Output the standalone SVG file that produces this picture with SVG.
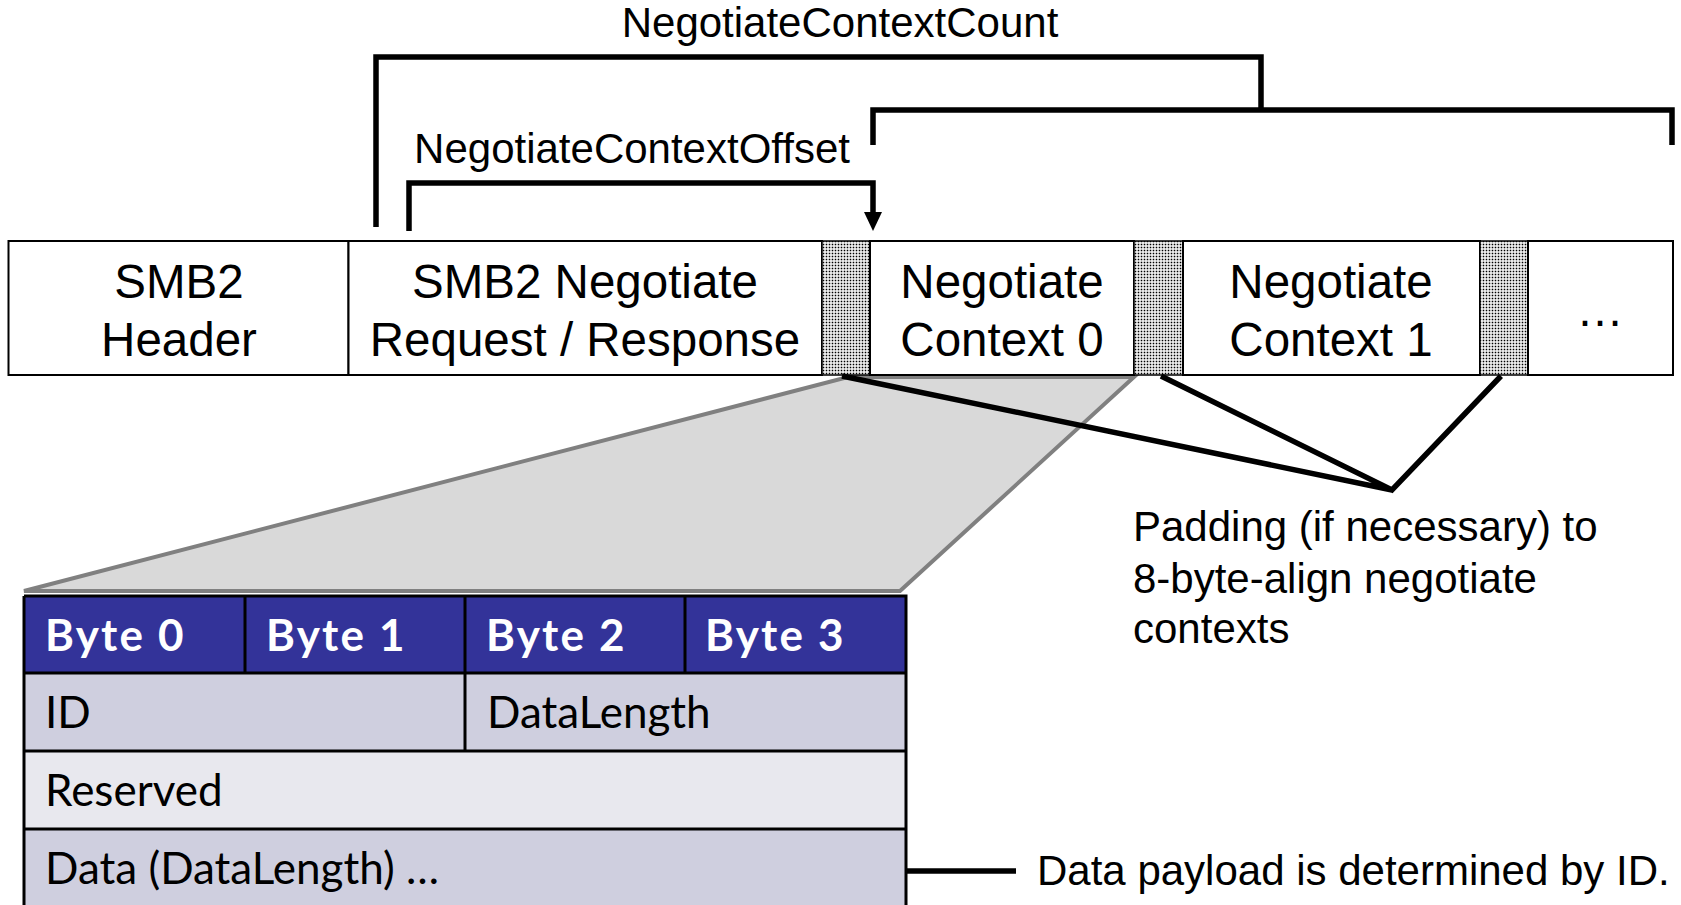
<svg xmlns="http://www.w3.org/2000/svg" width="1681" height="905" viewBox="0 0 1681 905">
  <style>
    .lbl { font-family: "Liberation Sans", Arial, sans-serif; font-size: 42px; fill: #000; }
    .box { font-family: "Liberation Sans", Arial, sans-serif; font-size: 47.5px; fill: #000; text-anchor: middle; }
    .cell { fill: #fff; stroke: #000; stroke-width: 2; }
    .pad { fill: url(#dots); stroke: #000; stroke-width: 1.5; }
    .bracket { fill: none; stroke: #000; stroke-width: 5.5; stroke-linejoin: miter; stroke-linecap: butt; }
    .hdr { font-family: Lato, "Open Sans", sans-serif; font-weight: bold; font-size: 44px; fill: #fff; letter-spacing: 2.2px; }
    .fld { font-family: Lato, "Open Sans", sans-serif; font-size: 44px; fill: #000; }
    .grid { stroke: #000; stroke-width: 3; fill: none; }
  </style>
  <defs>
    <pattern id="dots" width="3" height="3" patternUnits="userSpaceOnUse">
      <rect width="3" height="3" fill="#fff"/>
      <rect x="0.7" y="0.7" width="1.6" height="1.6" fill="#000"/>
    </pattern>
  </defs>

  <!-- magnification wedge behind the context layout -->
  <g id="zoom-wedge">
    <polygon points="848,377 1134,377 900,591 24,591" fill="#D9D9D9" stroke="#808080" stroke-width="4" stroke-linejoin="miter"/>
  </g>

  <!-- message layout bar -->
  <g id="smb2-header">
    <rect class="cell" x="8.5" y="241" width="340" height="134"/>
    <text class="box" x="179" y="298">SMB2</text>
    <text class="box" x="179" y="356">Header</text>
  </g>
  <g id="negotiate-body">
    <rect class="cell" x="348.5" y="241" width="473.5" height="134"/>
    <text class="box" x="585" y="298">SMB2 Negotiate</text>
    <text class="box" x="585" y="356">Request / Response</text>
  </g>
  <g id="padding-0">
    <rect class="pad" x="822" y="241" width="48" height="134"/>
  </g>
  <g id="context-0">
    <rect class="cell" x="870" y="241" width="264" height="134"/>
    <text class="box" x="1002" y="298">Negotiate</text>
    <text class="box" x="1002" y="356">Context 0</text>
  </g>
  <g id="padding-1">
    <rect class="pad" x="1134" y="241" width="49" height="134"/>
  </g>
  <g id="context-1">
    <rect class="cell" x="1183" y="241" width="297" height="134"/>
    <text class="box" x="1331" y="298">Negotiate</text>
    <text class="box" x="1331" y="356">Context 1</text>
  </g>
  <g id="padding-2">
    <rect class="pad" x="1480" y="241" width="48" height="134"/>
  </g>
  <g id="more-contexts">
    <rect class="cell" x="1528" y="241" width="145" height="134"/>
    <text class="box" x="1600" y="326">…</text>
  </g>

  <!-- negotiate context structure -->
  <g id="context-table">
    <rect x="24" y="596" width="882" height="77" fill="#333399"/>
    <rect x="24" y="673" width="882" height="78" fill="#CFCFDF"/>
    <rect x="24" y="751" width="882" height="78" fill="#E8E8EE"/>
    <rect x="24" y="829" width="882" height="80" fill="#CFCFDF"/>
    <path class="grid" d="M24,596 H906 V909 M24,596 V909 M24,673 H906 M24,751 H906 M24,829 H906 M245,596 V673 M465,596 V751 M685,596 V673"/>
    <text class="hdr" x="45" y="651">Byte 0</text>
    <text class="hdr" x="266" y="651">Byte 1</text>
    <text class="hdr" x="486" y="651">Byte 2</text>
    <text class="hdr" x="705" y="651">Byte 3</text>
    <text class="fld" x="45" y="728">ID</text>
    <text class="fld" x="487" y="728">DataLength</text>
    <text class="fld" x="45" y="806">Reserved</text>
    <text class="fld" x="45" y="884">Data (DataLength) <tspan letter-spacing="4">…</tspan></text>
  </g>

  <!-- annotations -->
  <g id="count-label">
    <text class="lbl" x="840" y="37" text-anchor="middle">NegotiateContextCount</text>
  </g>
  <g id="offset-label">
    <text class="lbl" x="632" y="163" text-anchor="middle">NegotiateContextOffset</text>
  </g>
  <g id="padding-note">
    <text class="lbl" x="1133" y="541">Padding (if necessary) to</text>
    <text class="lbl" x="1133" y="593">8-byte-align negotiate</text>
    <text class="lbl" x="1133" y="643">contexts</text>
  </g>
  <g id="payload-note">
    <text class="lbl" x="1037" y="885">Data payload is determined by ID.</text>
  </g>

  <!-- connectors -->
  <g id="connectors">
    <path class="bracket" d="M376,227 V57 H1261 V110"/>
    <path class="bracket" d="M873,145 V110 H1672 V145"/>
    <path class="bracket" d="M409,231 V183 H873 V213"/>
    <polygon points="864,212 882,212 873,231" fill="#000"/>
    <path class="bracket" d="M842,376 L1392,490 M1161,376 L1392,490 L1501,376"/>
    <path class="bracket" d="M906,871 H1016"/>
  </g>
</svg>
